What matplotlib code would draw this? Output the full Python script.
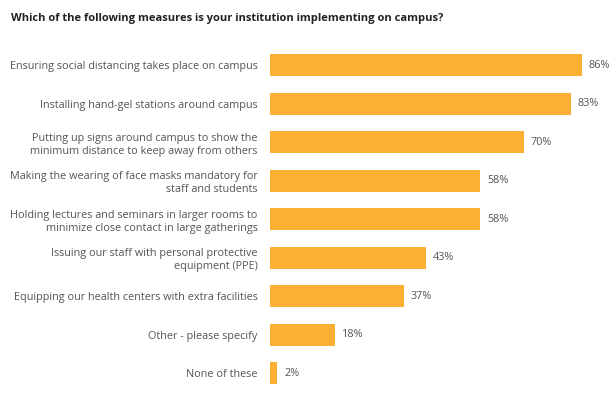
import matplotlib
matplotlib.use("Agg")
import matplotlib.pyplot as plt
from matplotlib.transforms import offset_copy

# ── data ─────────────────────────────────────────────
labels = [
    "Ensuring social distancing takes place on campus",
    "Installing hand-gel stations around campus",
    "Putting up signs around campus to show the\nminimum distance to keep away from others",
    "Making the wearing of face masks mandatory for\nstaff and students",
    "Holding lectures and seminars in larger rooms to\nminimize close contact in large gatherings",
    "Issuing our staff with personal protective\nequipment (PPE)",
    "Equipping our health centers with extra facilities",
    "Other - please specify",
    "None of these",
]
values = [86, 83, 70, 58, 58, 43, 37, 18, 2]

TITLE = "Which of the following measures is your institution implementing on campus?"
BAR_COLOR = "#FBB034"
TEXT_COLOR = "#555555"

plt.rcParams["font.family"] = ["Open Sans", "DejaVu Sans"]

fig = plt.figure(figsize=(6.16, 3.94), dpi=100)
fig.patch.set_facecolor("white")
ax = fig.add_axes([0.438, 0.0044, 0.5065, 0.879])

y = range(len(values))
ax.barh(list(y), values, height=0.57, color=BAR_COLOR)
ax.set_xlim(0, 86)
ax.set_ylim(len(values) - 0.5, -0.5)

ax.set_yticks(list(y))
ax.set_yticklabels(labels, fontsize=7.8, color=TEXT_COLOR, linespacing=1.25)
ax.tick_params(axis="y", length=0, pad=8.6)
ax.set_xticks([])
for s in ax.spines.values():
    s.set_visible(False)

for i, v in enumerate(values):
    tr = offset_copy(ax.transData, fig=fig, x=7, y=0, units="dots")
    ax.text(v, i, f"{v}%", transform=tr, ha="left", va="center",
            fontsize=7.8, color=TEXT_COLOR, clip_on=False)

fig.text(11 / 616, 1 - 18 / 394, TITLE, ha="left", va="center",
         fontsize=8.0, fontweight="bold", color="#222222")

fig.savefig("out.png", dpi=100, facecolor="white")
